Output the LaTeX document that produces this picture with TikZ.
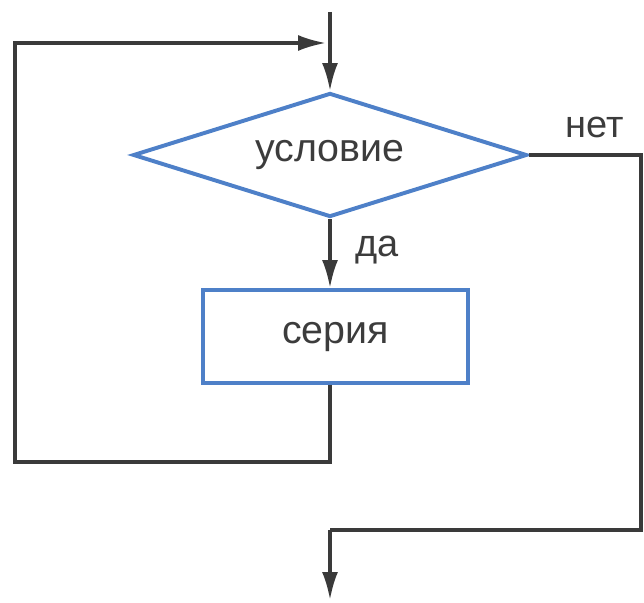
\documentclass[tikz,border=0pt]{standalone}
\usepackage{fontspec}
\setmainfont{Liberation Sans}
\usepackage{xcolor}
\usepackage{tikz}
\usetikzlibrary{shapes.geometric, arrows.meta, positioning, calc}

\definecolor{blockblue}{RGB}{78,128,200}
\definecolor{linegray}{RGB}{58,58,58}
\definecolor{textgray}{RGB}{60,60,60}

\begin{document}
\begin{tikzpicture}[
    decision/.style={diamond, aspect=3.18, draw=blockblue, line width=2.8pt, inner sep=0pt, minimum width=9.85cm, minimum height=3.1cm, text=textgray, font=\fontsize{28}{34}\selectfont},
    block/.style={rectangle, draw=blockblue, line width=2.8pt, minimum width=6.625cm, minimum height=2.325cm, text=textgray, font=\fontsize{28}{34}\selectfont},
    line/.style={draw=linegray, line width=2.3pt},
    arrow/.style={line, -{Latex[length=7mm, width=4mm]}},
    label/.style={text=textgray, inner sep=0pt, font=\fontsize{27}{32}\selectfont},
]
\useasboundingbox (0,0) rectangle (16.1,-15.075);

% Entry and loop join
\coordinate (entry) at (8.25,-0.3);
\coordinate (join) at (8.25,-1.075);

% Decision
\node[decision] (cond) at (8.25,-3.875) {условие};

% Loop body
\node[block] (series) at (8.3875,-8.4125) {серия};

% Corners of the loop and exit
\coordinate (backlow) at (8.25,-11.55);
\coordinate (backleft) at (0.375,-11.55);
\coordinate (exitright) at (16.025,-3.875);
\coordinate (exitjoin) at (8.25,-13.25);
\coordinate (exit) at (8.25,-15.0);

% Labels
\node[label, above right=0.42cm and 0.9cm of cond.east] (no) {нет};

% Arrows
\draw[arrow] (entry) -- (cond.north);
\draw[arrow] (cond.south) -- node[label, right=0.6cm, pos=0.45] (yes) {да} (cond.south |- series.north);
\draw[arrow] (cond.south |- series.south) -- (backlow) -- (backleft) |- ($(join)+(-0.1,0)$);
\draw[line] (cond.east) -- (exitright) |- (exitjoin);
\draw[arrow] (exitjoin) -- (exit);

\end{tikzpicture}
\end{document}
